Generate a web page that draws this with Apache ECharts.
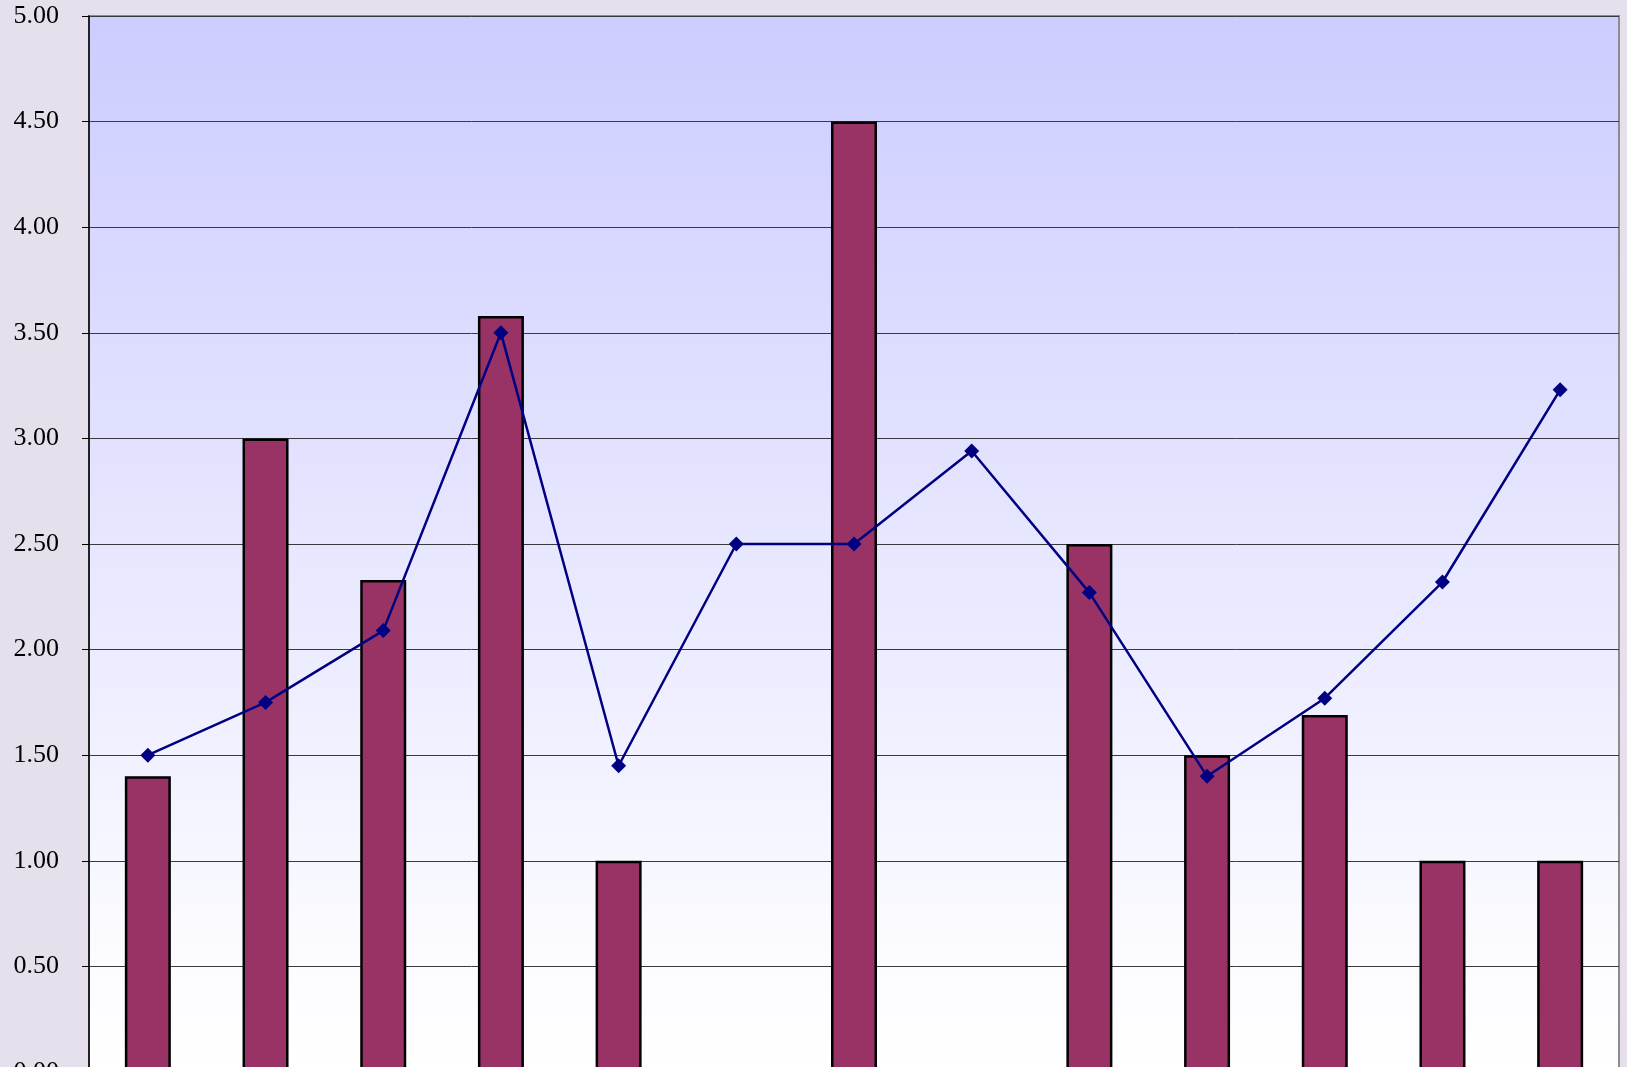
<!DOCTYPE html>
<html>
<head>
<meta charset="utf-8">
<script src="https://cdn.jsdelivr.net/npm/echarts@6/dist/echarts.min.js"></script>
<style>
html,body{margin:0;padding:0;background:#E6E0EC;}
#chart{width:1627px;height:1067px;}
</style>
</head>
<body>
<div id="chart"></div>
<script>
const categories = ['1','2','3','4','5','6','7','8','9','10','11','12','13'];
const barValues = [1.40, 3.00, 2.33, 3.58, 1.00, null, 4.50, null, 2.50, 1.50, 1.69, 1.00, 1.00];
const lineValues = [1.50, 1.75, 2.09, 3.50, 1.45, 2.50, 2.50, 2.94, 2.27, 1.40, 1.77, 2.32, 3.23];

const chart = echarts.init(document.getElementById('chart'));
chart.setOption({
  backgroundColor: '#E6E0EC',
  animation: false,
  grid: {
    left: 89, top: 16, width: 1530, height: 1056,
    outerBoundsMode: 'none',
    containLabel: false,
    show: true,
    backgroundColor: {
      type: 'linear', x: 0, y: 0, x2: 0, y2: 1,
      colorStops: [
        {offset: 0, color: '#CCCCFF'},
        {offset: 0.9, color: '#FCFCFF'},
        {offset: 1, color: '#FFFFFF'}
      ]
    },
    borderColor: '#8C8C8C',
    borderWidth: 2
  },
  xAxis: {
    type: 'category',
    data: categories,
    axisLabel: {show: false},
    axisTick: {show: false},
    axisLine: {lineStyle: {color: '#000'}}
  },
  yAxis: {
    type: 'value',
    min: 0, max: 5, interval: 0.5,
    axisLine: {show: true, lineStyle: {color: '#000', width: 1.5}},
    axisTick: {show: true, length: 7, lineStyle: {color: '#000'}},
    axisLabel: {
      formatter: v => v.toFixed(2),
      fontFamily: 'Liberation Serif',
      fontSize: 26,
      color: '#000',
      margin: 30
    },
    splitLine: {lineStyle: {color: '#3A3A3A', width: 1}}
  },
  series: [
    {
      type: 'bar',
      data: barValues,
      barWidth: 46,
      itemStyle: {color: '#993366', borderColor: '#000', borderWidth: 2.5}
    },
    {
      type: 'line',
      data: lineValues,
      symbol: 'diamond',
      symbolSize: 15,
      lineStyle: {color: '#000080', width: 2.5},
      itemStyle: {color: '#000080'}
    }
  ]
});
</script>
</body>
</html>
